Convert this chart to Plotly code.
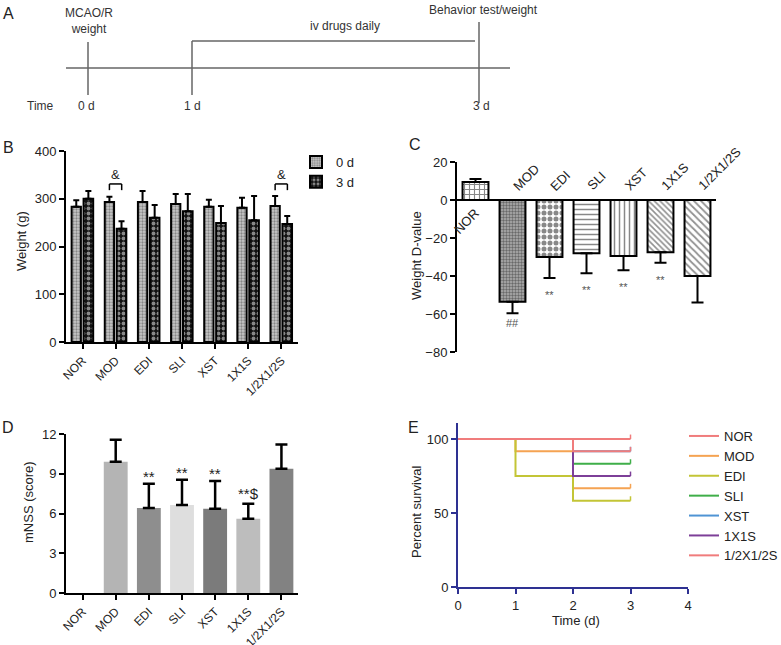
import plotly.graph_objects as go

# ---- data -------------------------------------------------------------
groups = ["NOR", "MOD", "EDI", "SLI", "XST", "1X1S", "1/2X1/2S"]

# B: body weight (g) at 0 d and 3 d
weight_0d = [283, 293, 293, 289, 283, 281, 285]
weight_0d_sd = [14, 11, 23, 21, 15, 21, 21]
weight_3d = [300, 237, 260, 274, 249, 255, 247]
weight_3d_sd = [16, 16, 27, 36, 36, 51, 17]
weight_sig = {"MOD": "&", "1/2X1/2S": "&"}
bracket_level = [318, 331]

# C: weight difference
weight_diff = [9.5, -53.6, -30, -28, -29.5, -27.5, -40]
weight_diff_sd = [1.5, 6, 11, 10.5, 7.5, 5.5, 14]
diff_sig = ["", "##", "**", "**", "**", "**", ""]

# D: mNSS score
mnss = [0, 9.9, 6.42, 6.65, 6.35, 5.6, 9.37]
mnss_sd = [0, 1.66, 1.82, 1.89, 2.1, 1.13, 1.83]
mnss_sig = ["", "", "**", "**", "**", "**$", ""]

# E: survival
days = [0, 1, 2, 3]
survival = {
    "NOR": [100, 100, 100, 100],
    "MOD": [100, 91.7, 66.7, 66.7],
    "EDI": [100, 75, 58.3, 58.3],
    "SLI": [100, 100, 83.3, 83.3],
    "XST": [100, 100, 91.7, 91.7],
    "1X1S": [100, 100, 75, 75],
    "1/2X1/2S": [100, 100, 91.7, 91.7],
}

# ---- styling ----------------------------------------------------------
W, H = 781, 645
FONT = "Liberation Sans, Arial, sans-serif"
TXT = "#222"
BLUE = "#2e3192"


def fx(p):
    return p / W


def fy(p):
    return 1 - p / H


surv_colors = ["#f07c7c", "#f5a352", "#c3c536", "#3fae49", "#4f94d4", "#7d3f98", "#f07c7c"]
c_patterns = [
    dict(shape="+", fgcolor="#111", bgcolor="white", size=5, solidity=0.4),
    dict(shape=".", fgcolor="#222", bgcolor="#b0b0b0", size=3, solidity=0.5),
    dict(shape=".", fgcolor="#111", bgcolor="white", size=6, solidity=0.55),
    dict(shape="-", fgcolor="#111", bgcolor="white", size=5, solidity=0.3),
    dict(shape="|", fgcolor="#111", bgcolor="white", size=5, solidity=0.3),
    dict(shape="\\", fgcolor="#222", bgcolor="white", size=4, solidity=0.4),
    dict(shape="\\", fgcolor="#222", bgcolor="white", size=5, solidity=0.35),
]
d_colors = ["#999999", "#b4b4b4", "#8e8e8e", "#dedede", "#7b7b7b", "#bdbdbd", "#828282"]

fig = go.Figure()

# ---- B ----------------------------------------------------------------
fig.add_trace(go.Bar(
    x=groups, y=weight_0d, name="0 d", offset=-0.33, width=0.28,
    marker=dict(color="#bbbbbb", line=dict(color="black", width=2),
                pattern=dict(shape=".", fgcolor="#444", bgcolor="#c8c8c8", size=3, solidity=0.45)),
    error_y=dict(type="data", symmetric=False, array=weight_0d_sd, arrayminus=[0] * len(groups),
                 color="black", thickness=2, width=3),
    xaxis="x", yaxis="y", legend="legend2"))
fig.add_trace(go.Bar(
    x=groups, y=weight_3d, name="3 d", offset=0.03, width=0.29,
    marker=dict(color="#111", line=dict(color="black", width=2),
                pattern=dict(shape=".", fgcolor="white", bgcolor="#111", size=5, solidity=0.45)),
    error_y=dict(type="data", symmetric=False, array=weight_3d_sd, arrayminus=[0] * len(groups),
                 color="black", thickness=2, width=3),
    xaxis="x", yaxis="y", legend="legend2"))

shapes = []
annotations = []
for g, mark in weight_sig.items():
    i = groups.index(g)
    a, b = i - 0.19, i + 0.18
    ln = dict(type="line", xref="x", yref="y", line=dict(color="black", width=1.5))
    shapes.append({**ln, "x0": a, "x1": b, "y0": bracket_level[1], "y1": bracket_level[1]})
    shapes.append({**ln, "x0": a, "x1": a, "y0": bracket_level[0], "y1": bracket_level[1]})
    shapes.append({**ln, "x0": b, "x1": b, "y0": bracket_level[0], "y1": bracket_level[1]})
    annotations.append(dict(x=i, y=bracket_level[1], xref="x", yref="y", text=mark, showarrow=False,
                            yanchor="bottom", font=dict(size=13, color=TXT)))

# ---- C ----------------------------------------------------------------
for i, g in enumerate(groups):
    v, sd = weight_diff[i], weight_diff_sd[i]
    up = v >= 0
    fig.add_trace(go.Bar(
        x=[g], y=[v], width=0.7, showlegend=False,
        marker=dict(color="white", line=dict(color="black", width=2), pattern=c_patterns[i]),
        error_y=dict(type="data", symmetric=False, array=[sd if up else 0], arrayminus=[0 if up else sd],
                     color="black", thickness=2, width=6),
        xaxis="x2", yaxis="y2"))
    if up:
        annotations.append(dict(x=g, y=0, xref="x2", yref="y2", text=g, showarrow=False, textangle=-45,
                                xanchor="right", yanchor="top", xshift=9, yshift=-3,
                                font=dict(size=13, color=TXT)))
    else:
        annotations.append(dict(x=g, y=0, xref="x2", yref="y2", text=g, showarrow=False, textangle=-45,
                                xanchor="left", yanchor="bottom", xshift=-5, yshift=4,
                                font=dict(size=13, color=TXT)))
    if diff_sig[i]:
        lower = v - sd
        annotations.append(dict(x=g, y=lower, xref="x2", yref="y2", text=diff_sig[i], showarrow=False,
                                yanchor="top", yshift=-2 if diff_sig[i] == "##" else -9,
                                font=dict(size=11, color="#555")))

# ---- D ----------------------------------------------------------------
d_idx = [i for i, v in enumerate(mnss) if v > 0]
fig.add_trace(go.Bar(
    x=[groups[i] for i in d_idx], y=[mnss[i] for i in d_idx], width=0.72, showlegend=False,
    marker=dict(color=[d_colors[i] for i in d_idx], line=dict(width=0)),
    error_y=dict(type="data", symmetric=False, array=[mnss_sd[i] for i in d_idx],
                 arrayminus=[0] * len(d_idx), color="black", thickness=2.5, width=6),
    xaxis="x3", yaxis="y3"))
for i, g in enumerate(groups):
    if mnss_sig[i]:
        annotations.append(dict(x=g, y=mnss[i] + mnss_sd[i], xref="x3", yref="y3", text=mnss_sig[i],
                                showarrow=False, yanchor="bottom", yshift=-3 if mnss_sig[i] == "**" else 0,
                                font=dict(size=15, color=TXT)))

# ---- E ----------------------------------------------------------------
for (g, vals), col in zip(survival.items(), surv_colors):
    censor = [0] * (len(days) - 1) + [3]
    fig.add_trace(go.Scatter(
        x=days, y=vals, name=g, mode="lines", line=dict(color=col, width=2, shape="hv"),
        error_y=dict(type="data", symmetric=False, array=censor, arrayminus=[0] * len(days),
                     color=col, thickness=1.5, width=0),
        xaxis="x4", yaxis="y4", legend="legend"))

# ---- A: timeline schematic -------------------------------------------
tl = dict(type="line", xref="paper", yref="paper", line=dict(color="#666", width=1.5))
for x0, y0, x1, y1 in [(66, 68, 510, 68), (88, 42, 88, 95), (192, 41, 192, 95),
                       (192, 41, 475, 41), (479, 22, 479, 103)]:
    shapes.append({**tl, "x0": fx(x0), "y0": fy(y0), "x1": fx(x1), "y1": fy(y1)})

paper_txt = dict(xref="paper", yref="paper", showarrow=False, xanchor="center", yanchor="middle")
for txt, x, y in [("MCAO/R<br>weight", 89, 21), ("iv drugs daily", 345, 26),
                  ("Behavior test/weight", 484, 10), ("Time", 40, 106),
                  ("0 d", 86, 106), ("1 d", 192, 106), ("3 d", 481, 106)]:
    annotations.append(dict(paper_txt, x=fx(x), y=fy(y), text=txt, font=dict(size=12, color="#333")))

# panel letters and axis titles
for txt, x, y in [("A", 8, 13), ("B", 8, 147), ("C", 415, 145), ("D", 8, 427), ("E", 413, 427)]:
    annotations.append(dict(paper_txt, x=fx(x), y=fy(y), text=txt, font=dict(size=16, color=TXT)))
for txt, x, y, ang in [("Weight (g)", 22, 241, -90), ("Weight D-value", 416, 256, -90),
                       ("mNSS (score)", 28, 502, -90), ("Percent survival", 416, 512, -90),
                       ("Time (d)", 576, 620, 0)]:
    annotations.append(dict(paper_txt, x=fx(x), y=fy(y), text=txt, textangle=ang,
                            font=dict(size=13, color=TXT)))

axis_common = dict(showgrid=False, zeroline=False, showline=True, linecolor="black", linewidth=2,
                   ticks="outside", tickcolor="black", tickwidth=2, ticklen=5,
                   tickfont=dict(size=13, color=TXT), automargin=False)
cat_ticks = dict(tickangle=-45, tickfont=dict(size=12, color=TXT),
                 categoryorder="array", categoryarray=groups)

fig.update_layout(
    width=W, height=H, margin=dict(l=0, r=0, t=0, b=0, autoexpand=False),
    paper_bgcolor="white", plot_bgcolor="white",
    font=dict(family=FONT, color=TXT),
    barmode="overlay",
    xaxis=dict(axis_common, **cat_ticks, domain=[fx(66), fx(298)], range=[-0.5, 6.5]),
    yaxis=dict(axis_common, domain=[fy(342), fy(151)], range=[0, 400], tickvals=[0, 100, 200, 300, 400]),
    xaxis2=dict(domain=[fx(457), fx(716)], range=[-0.5, 6.5], showticklabels=False, showline=False,
                showgrid=False, zeroline=False, ticks="", categoryorder="array", categoryarray=groups,
                anchor="y2", automargin=False),
    yaxis2=dict(axis_common, domain=[fy(352), fy(162)], range=[-80, 20], tickvals=[-80, -60, -40, -20, 0, 20],
                zeroline=True, zerolinecolor="black", zerolinewidth=2, anchor="x2"),
    xaxis3=dict(axis_common, **cat_ticks, domain=[fx(66), fx(298)], range=[-0.5, 6.5], anchor="y3"),
    yaxis3=dict(axis_common, domain=[fy(593), fy(434)], range=[0, 12], tickvals=[0, 3, 6, 9, 12],
                anchor="x3"),
    xaxis4=dict(axis_common, domain=[fx(458), fx(688)], range=[0, 4], tickvals=[0, 1, 2, 3, 4],
                linecolor=BLUE, tickcolor=BLUE, anchor="y4"),
    yaxis4=dict(axis_common, domain=[fy(587), fy(423)], range=[0, 110.8], tickvals=[0, 50, 100],
                linecolor=BLUE, tickcolor=BLUE, anchor="x4"),
    legend=dict(x=fx(684), y=fy(421), xanchor="left", yanchor="top", bgcolor="rgba(0,0,0,0)",
                font=dict(size=13, color=TXT), tracegroupgap=0),
    legend2=dict(x=fx(296), y=fy(147), xanchor="left", yanchor="top", bgcolor="rgba(0,0,0,0)",
                 font=dict(size=13, color=TXT)),
    shapes=shapes,
    annotations=annotations,
)

fig.write_html("out.html", config={"displayModeBar": False},
               post_script="document.body.style.margin='0';")
